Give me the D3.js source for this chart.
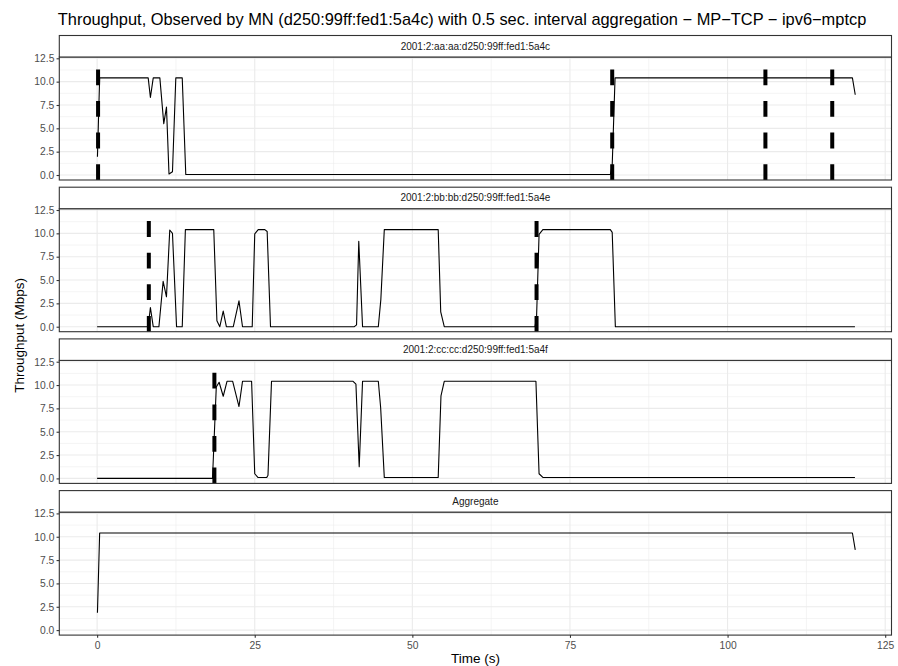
<!DOCTYPE html>
<html>
<head>
<meta charset="utf-8">
<script src="https://cdn.jsdelivr.net/npm/d3@7"></script>
<style>
	body { margin: 0; background: #fff; }
	svg { display: block; font-family: "Liberation Sans", Arial, sans-serif; }
</style>
</head>
<body>
<svg id="chart" width="898" height="666"></svg>
<script>
const TITLE = "Throughput, Observed by MN (d250:99ff:fed1:5a4c) with 0.5 sec. interval aggregation \u2212 MP\u2212TCP \u2212 ipv6\u2212mptcp";
const FACETS = ["2001:2:aa:aa:d250:99ff:fed1:5a4c", "2001:2:bb:bb:d250:99ff:fed1:5a4e", "2001:2:cc:cc:d250:99ff:fed1:5a4f", "Aggregate"];

const X_TICKS = [0, 25, 50, 75, 100, 125];
const X_MINOR = [12.5, 37.5, 62.5, 87.5, 112.5];
const Y_TICKS = [0, 2.5, 5, 7.5, 10, 12.5];
const Y_MINOR = [1.25, 3.75, 6.25, 8.75, 11.25];

// throughput samples [time (s), Mbps]
const aaPoints = [
	[0.05, 1.95], [0.4, 10.4], [8.1, 10.4], [8.45, 8.3], [8.9, 10.4], [9.95, 10.4],
	[10.57, 5.5], [11.0, 7.27], [11.4, 0.1], [11.95, 0.35], [12.48, 10.4], [13.5, 10.4],
	[14.06, 0.05], [81.4, 0.05], [81.7, 1.06], [82.15, 10.4], [119.8, 10.4], [120.25, 8.6]
];
const bbPoints = [
	[0, 0], [8.1, 0], [8.45, 2.06], [8.9, 0], [9.8, 0], [10.47, 4.86], [11.0, 3.2],
	[11.52, 10.36], [11.95, 10.0], [12.6, 0], [13.5, 0], [14.0, 10.4], [18.5, 10.4],
	[19.0, 0.64], [19.46, 0], [20.0, 1.67], [20.5, 0], [21.6, 0], [22.5, 2.77], [23.06, 0],
	[24.6, 0], [25.0, 9.94], [25.55, 10.4], [26.6, 10.4], [26.97, 10.2], [27.5, 0],
	[40.8, 0], [41.15, 0.2], [41.5, 9.15], [42.1, 0], [44.6, 0], [45.0, 2.9], [45.55, 10.4],
	[54.1, 10.4], [54.5, 1.6], [55.06, 0], [69.46, 0], [69.7, 1.0], [70.1, 9.9], [70.7, 10.4],
	[81.4, 10.4], [81.7, 10.1], [82.2, 0], [120.2, 0]
];
const ccPoints = [
	[0, 0], [18.3, 0], [18.9, 9.8], [19.35, 10.3], [20.0, 8.8], [20.6, 10.4], [21.5, 10.4],
	[22.5, 7.7], [23.06, 10.4], [24.5, 10.4], [25.0, 0.5], [25.5, 0.1], [26.9, 0.1],
	[27.1, 0.35], [27.66, 10.4], [40.6, 10.4], [41.05, 10.1], [41.57, 1.25], [42.1, 10.4],
	[44.6, 10.4], [44.97, 7.6], [45.55, 0.1], [54.1, 0.1], [54.54, 8.85], [55.06, 10.4],
	[69.6, 10.4], [70.1, 0.5], [70.7, 0.1], [120.2, 0.1]
];
const aggPoints = [
	[0.05, 1.85], [0.4, 10.4], [119.8, 10.4], [120.25, 8.6]
];

// handover instants drawn as dashed vertical lines
const aaHandovers = [0.15, 81.7, 106.0, 116.6];
const bbHandovers = [8.2, 69.7];
const ccHandovers = [18.6];
const aggHandovers = [];

const SERIES = [aaPoints, bbPoints, ccPoints, aggPoints];
const HANDOVERS = [aaHandovers, bbHandovers, ccHandovers, aggHandovers];

const svg = d3.select("#chart");

const left = 59.3;
const right = 891.5;
const firstTop = 35.5;
const facetStep = 151.7;
const stripH = 21.5;
const panelH = 123;
const TICK_FONT = 10.3;

const x = d3.scaleLinear()
	.domain([-6, 126])
	.range([left, right]);

svg.append("text")
	.attr("x", left - 1.5)
	.attr("y", 25)
	.attr("font-size", 16.4)
	.attr("fill", "#000")
	.text(TITLE);

FACETS.forEach((name, i) => {
	const stripTop = firstTop + i * facetStep;
	const top = stripTop + stripH;
	const bottom = top + panelH;

	const y = d3.scaleLinear()
		.domain([-0.535, 12.64])
		.range([bottom, top]);

	const g = svg.append("g");

	// grid
	g.append("g")
		.attr("stroke", "#ebebeb")
		.attr("stroke-width", 0.55)
		.call(gg => gg.selectAll(".xm").data(X_MINOR).join("line")
			.attr("x1", d => x(d)).attr("x2", d => x(d))
			.attr("y1", top).attr("y2", bottom))
		.call(gg => gg.selectAll(".ym").data(Y_MINOR).join("line")
			.attr("x1", left).attr("x2", right)
			.attr("y1", d => y(d)).attr("y2", d => y(d)));

	g.append("g")
		.attr("stroke", "#ebebeb")
		.attr("stroke-width", 1.1)
		.call(gg => gg.selectAll(".xM").data(X_TICKS).join("line")
			.attr("x1", d => x(d)).attr("x2", d => x(d))
			.attr("y1", top).attr("y2", bottom))
		.call(gg => gg.selectAll(".yM").data(Y_TICKS).join("line")
			.attr("x1", left).attr("x2", right)
			.attr("y1", d => y(d)).attr("y2", d => y(d)));

	// throughput line
	g.append("path")
		.datum(SERIES[i])
		.attr("fill", "none")
		.attr("stroke", "#000")
		.attr("stroke-width", 1.1)
		.attr("stroke-linejoin", "round")
		.attr("d", d3.line().x(d => x(d[0])).y(d => y(d[1])));

	// handover markers, dashes start at the panel bottom
	g.selectAll(".ho")
		.data(HANDOVERS[i])
		.join("line")
		.attr("x1", d => x(d)).attr("x2", d => x(d))
		.attr("y1", bottom).attr("y2", top)
		.attr("stroke", "#000")
		.attr("stroke-width", 4)
		.attr("stroke-dasharray", "15.8,15.8");

	// panel border
	g.append("rect")
		.attr("x", left).attr("y", top)
		.attr("width", right - left).attr("height", panelH)
		.attr("fill", "none")
		.attr("stroke", "#333")
		.attr("stroke-width", 1.1);

	// strip
	g.append("rect")
		.attr("x", left).attr("y", stripTop)
		.attr("width", right - left).attr("height", stripH)
		.attr("fill", "#fff")
		.attr("stroke", "#333")
		.attr("stroke-width", 1.1);
	g.append("text")
		.attr("x", (left + right) / 2)
		.attr("y", stripTop + stripH / 2 + 3.5)
		.attr("text-anchor", "middle")
		.attr("font-size", 10)
		.attr("fill", "#1a1a1a")
		.text(name);

	// y axis
	const yAxis = g.append("g")
		.attr("transform", `translate(${left},0)`)
		.call(d3.axisLeft(y).tickValues(Y_TICKS).tickSize(2.75).tickPadding(2.2)
			.tickFormat(d3.format(".1f")));
	yAxis.select(".domain").remove();
	yAxis.selectAll(".tick line").attr("stroke", "#333").attr("stroke-width", 1.1);
	yAxis.selectAll(".tick text")
		.attr("fill", "#4d4d4d")
		.attr("font-size", TICK_FONT)
		.attr("font-family", "Liberation Sans, Arial, sans-serif");

	if (i === FACETS.length - 1) {
		const xAxis = g.append("g")
			.attr("transform", `translate(0,${bottom})`)
			.call(d3.axisBottom(x).tickValues(X_TICKS).tickSize(2.75).tickPadding(3.5)
				.tickFormat(d3.format("d")));
		xAxis.select(".domain").remove();
		xAxis.selectAll(".tick line").attr("stroke", "#333").attr("stroke-width", 1.1);
		xAxis.selectAll(".tick text")
			.attr("fill", "#4d4d4d")
			.attr("font-size", TICK_FONT)
			.attr("font-family", "Liberation Sans, Arial, sans-serif");
	}
});

svg.append("text")
	.attr("x", (left + right) / 2)
	.attr("y", 663)
	.attr("text-anchor", "middle")
	.attr("font-size", 13.5)
	.text("Time (s)");

svg.append("text")
	.attr("transform", `translate(24,${(firstTop + 3 * facetStep + stripH + panelH + firstTop) / 2}) rotate(-90)`)
	.attr("text-anchor", "middle")
	.attr("font-size", 13.5)
	.text("Throughput (Mbps)");
</script>
</body>
</html>
